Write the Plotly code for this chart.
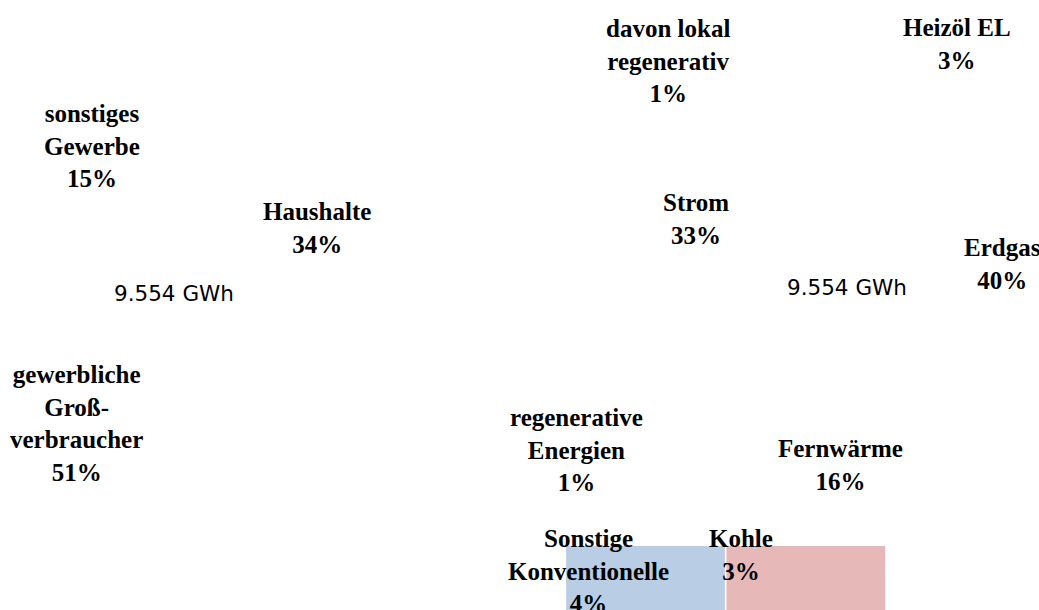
import plotly.graph_objects as go

W, H = 1039, 610

# ---- data ----
total_label = "9.554 GWh"

consumer_labels = ["sonstiges<br>Gewerbe", "Haushalte", "gewerbliche<br>Groß-<br>verbraucher"]
consumer_shares = [15, 34, 51]

source_labels = ["davon lokal<br>regenerativ", "Heizöl EL", "Strom", "Erdgas",
                 "regenerative<br>Energien", "Fernwärme",
                 "Sonstige<br>Konventionelle", "Kohle"]
source_shares = [1, 3, 33, 40, 1, 16, 4, 3]

bar_categories = ["Sonstige Konventionelle", "Kohle"]
bar_values = [1.0, 1.0]

# ---- layout positions (pixels) ----
consumer_pos = [(92, 146), (316.5, 228), (76, 423)]
source_pos = [(668, 61), (956.5, 44), (695.5, 219), (1002, 264),
              (576, 450), (840, 465.5), (588, 571), (741, 554.5)]
total_pos = [(174, 293), (847, 287.5)]

bar_colors = ["#B9CDE5", "#E6B9B8"]
serif = dict(family="Liberation Serif", size=25, color="black", weight="bold")
sans = dict(family="DejaVu Sans", size=21.5, color="black")

fig = go.Figure()
fig.add_trace(go.Bar(
    x=[0, 1], y=bar_values, width=0.99,
    marker=dict(color=bar_colors, line=dict(width=0)),
    hovertext=bar_categories, hoverinfo="text", showlegend=False,
))

def px(x, y):
    return x / W, 1 - y / H

annotations = []
for lab, share, (x, y) in zip(consumer_labels, consumer_shares, consumer_pos):
    xp, yp = px(x, y)
    annotations.append(dict(text=f"{lab}<br>{share}%", x=xp, y=yp, xref="paper", yref="paper",
                            xanchor="center", yanchor="middle", align="center",
                            showarrow=False, font=serif))
for lab, share, (x, y) in zip(source_labels, source_shares, source_pos):
    xp, yp = px(x, y)
    annotations.append(dict(text=f"{lab}<br>{share}%", x=xp, y=yp, xref="paper", yref="paper",
                            xanchor="center", yanchor="middle", align="center",
                            showarrow=False, font=serif))
for (x, y) in total_pos:
    xp, yp = px(x, y)
    annotations.append(dict(text=total_label, x=xp, y=yp, xref="paper", yref="paper",
                            xanchor="center", yanchor="middle", showarrow=False, font=sans))

# bar axis scaling: centres at 645.5 and 805.5 px, ~160 px per unit
c0, step = 645.5, 160.3
top_px = 546
fig.update_layout(
    width=W, height=H,
    margin=dict(l=0, r=0, t=0, b=0),
    paper_bgcolor="white", plot_bgcolor="white",
    xaxis=dict(range=[-c0 / step, (W - c0) / step], visible=False, fixedrange=True),
    yaxis=dict(range=[0, bar_values[0] * H / (H - top_px)], visible=False, fixedrange=True),
    annotations=annotations,
    showlegend=False,
)

fig.write_html("out.html",
               config={"displayModeBar": False},
               post_script="document.body.style.margin='0';document.body.style.overflow='hidden';")
